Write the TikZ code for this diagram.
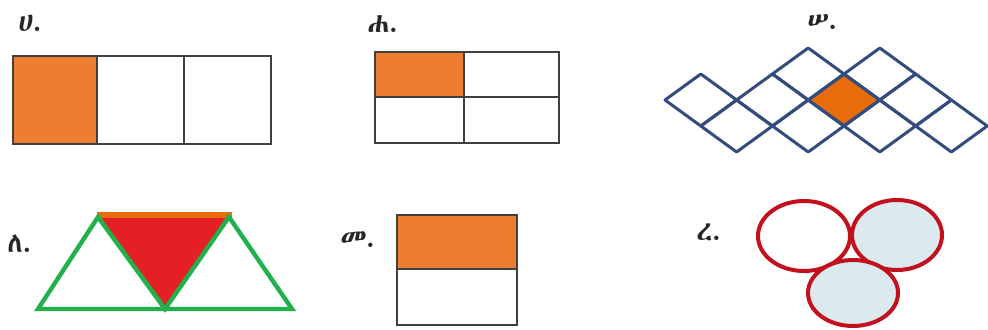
\documentclass[tikz,border=0pt]{standalone}
\usepackage{fontspec}
\IfFontExistsTF{Abyssinica SIL}
  {\newfontfamily\ethfont{Abyssinica SIL}}
  {\IfFontExistsTF{FreeSerif}
    {\newfontfamily\ethfont{FreeSerif}}
    {\IfFontExistsTF{FreeSans}
      {\newfontfamily\ethfont{FreeSans}}
      {\newfontfamily\ethfont{DejaVu Sans}}}}
\usetikzlibrary{positioning}

\definecolor{cellorange}{RGB}{237,125,49}
\definecolor{darkorange}{RGB}{230,108,12}
\definecolor{boxgray}{RGB}{64,64,64}
\definecolor{gridblue}{RGB}{50,76,126}
\definecolor{trigreen}{RGB}{34,176,76}
\definecolor{trired}{RGB}{228,32,36}
\definecolor{ringred}{RGB}{194,16,28}
\definecolor{paleblue}{RGB}{220,234,240}

\begin{document}
\begin{tikzpicture}[x=0.5pt, y=-0.5pt,
  % --- Style definitions ---
  lbl/.style={anchor=base west, inner sep=0pt, text=black!85,
              font=\ethfont\fontsize{14}{14}\selectfont},
  box/.style={draw=boxgray, line width=1pt},
  gridline/.style={draw=gridblue, line width=1.5pt, line join=round},
  tri/.style={draw=trigreen, line width=2.2pt},
  ring/.style={draw=ringred, line width=2pt},
]
\useasboundingbox (0,0) rectangle (988,330);

% ===== Labels =====
\node[lbl] (la) at (18,32)  {ሀ.};
\node[lbl] (lb) at (367,33) {ሐ.};
\node[lbl] (lc) at (807,30) {ሠ.};
\node[lbl] (ld) at (7,253)  {ለ.};
\node[lbl] (le) at (340,248) {መ.};
\node[lbl] (lf) at (696,241) {ረ.};

% ===== Row 1 =====

% --- one third strip ---
\fill[cellorange] (13,56) rectangle (97,144);
\draw[box] (13,56) rectangle (271,144);
\draw[box] (97,56) -- (97,144) (184,56) -- (184,144);

% --- quarter grid ---
\fill[cellorange] (375,52) rectangle (464,97);
\draw[box] (375,52) rectangle (559,143);
\draw[box] (464,52) -- (464,143) (375,97) -- (559,97);

% --- rhombus tiling (slanted axes) ---
\begin{scope}[shift={(665,100)}, x={(17.9pt,13pt)}, y={(17.9pt,-13pt)}]
  \fill[darkorange] (2,2) -- ++(1,0) -- ++(0,1) -- ++(-1,0) -- cycle;
  \foreach \i/\j in {0/0,0/1,1/1,1/2,2/1,2/2,2/3,3/2,3/3,3/4}
    \draw[gridline] (\i,\j) -- ++(1,0) -- ++(0,1) -- ++(-1,0) -- cycle;
\end{scope}

% ===== Row 2 =====

% --- triangles ---
\fill[trired] (97,214) -- (232,214) -- (165,308) -- cycle;
\draw[darkorange, line width=3pt] (97,215) -- (232,215);
\draw[tri] (38,309) -- (98,217) -- (165,309) -- (229,217) -- (292,309) -- cycle;

% --- half square ---
\fill[cellorange] (397,215) rectangle (517,269);
\draw[box] (397,215) rectangle (517,325);
\draw[box] (397,269) -- (517,269);

% --- three ellipses ---
\filldraw[ring, fill=white]    (804,236) ellipse [x radius=23pt, y radius=17.5pt];
\filldraw[ring, fill=paleblue] (897,235) ellipse [x radius=22.5pt, y radius=17.5pt];
\filldraw[ring, fill=paleblue] (853,293) ellipse [x radius=22.5pt, y radius=16.5pt];

\end{tikzpicture}
\end{document}
